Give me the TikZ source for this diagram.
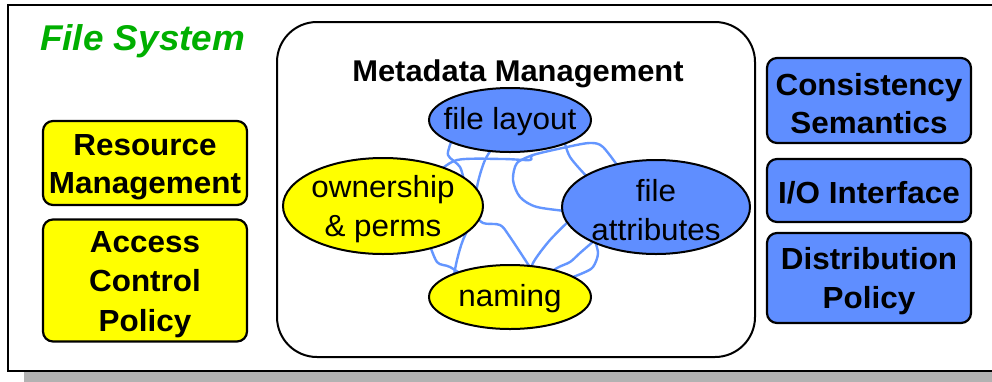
\documentclass[tikz,border=0pt]{standalone}
\usepackage{fontspec}
\setmainfont{Liberation Sans}[FakeStretch=1.03]
\usetikzlibrary{shapes.geometric,backgrounds}
\definecolor{fsblue}{RGB}{95,142,255}
\definecolor{lnblue}{RGB}{100,150,255}
\definecolor{fsyellow}{RGB}{255,255,0}
\definecolor{fsgreen}{RGB}{0,175,0}
\definecolor{shadowgray}{RGB}{178,178,178}
\begin{document}
\begin{tikzpicture}[x=1pt,y=-1pt,
  lbl/.style={font=\fontsize{30.5}{38.5}\selectfont, align=center, inner sep=0pt},
  rbox/.style={draw=black, line width=2.2pt, rounded corners=10pt, minimum width=204pt, align=center, inner sep=0pt, font=\fontsize{30.5}{38.5}\selectfont\bfseries},
  ybox/.style={rbox, fill=fsyellow},
  bbox/.style={rbox, fill=fsblue},
  ell/.style={ellipse, draw=black, line width=2pt, inner sep=0pt},
  scrib/.style={draw=lnblue, line width=2.4pt, line join=round, line cap=round}]
\useasboundingbox (0,0) rectangle (992,381);
% frame with shadow
\begin{scope}[on background layer]
\fill[white] (0,0) rectangle (992,381);
\fill[shadowgray] (24,371) rectangle (1000,390);
\fill[white] (8,5) rectangle (1000,371);
\end{scope}
\draw[line width=2pt] (8,5) rectangle (1000,371);
\node[font=\fontsize{35.8}{40}\selectfont\bfseries\itshape, text=fsgreen, anchor=base west, inner sep=0pt] (title) at (40,50) {File System};
% left boxes
\node[ybox, minimum height=84pt] (res) at (145,163) {};
\node[lbl, font=\fontsize{30.5}{38.5}\selectfont\bfseries] at ([yshift=-4pt]res.center) {Resource\\Management};
\node[ybox, minimum height=122pt] (acc) at (145,280.5) {};
\node[lbl, font=\fontsize{30.5}{39.5}\selectfont\bfseries] at ([yshift=-4pt]acc.center) {Access\\Control\\Policy};
% right boxes
\node[bbox, minimum height=85pt] (cons) at (869,100.5) {};
\node[lbl, font=\fontsize{30.5}{38.5}\selectfont\bfseries] at ([yshift=-3pt]cons.center) {Consistency\\Semantics};
\node[bbox, minimum height=63pt] (io) at (869,190.5) {};
\node[lbl, font=\fontsize{30.5}{38.5}\selectfont\bfseries] at ([yshift=-2pt]io.center) {I/O Interface};
\node[bbox, minimum height=90pt] (dist) at (869,278) {};
\node[lbl, font=\fontsize{30.5}{38.5}\selectfont\bfseries] at ([yshift=-3pt]dist.center) {Distribution\\Policy};
% metadata container
\node[draw=black, line width=2pt, rounded corners=40pt, minimum width=478pt, minimum height=335pt, inner sep=0pt] (meta) at (516,189.5) {};
\node[font=\fontsize{30}{36}\selectfont\bfseries, anchor=base, inner sep=0pt] (metat) at (518,81) {Metadata Management};
% ellipses
\node[ell, fill=fsblue, minimum width=162pt, minimum height=64pt] (lay) at (510,120) {};
\node[lbl] (layt) at ([yshift=-2pt]lay.center) {file layout};
\node[ell, fill=fsyellow, minimum width=200pt, minimum height=96pt] (own) at (383,206) {};
\node[lbl] (ownt) at ([yshift=-3pt]own.center) {ownership\\\& perms};
\node[ell, fill=fsblue, minimum width=188pt, minimum height=94pt] (attr) at (656,207) {};
\node[lbl] (attrt) at ([yshift=-3pt]attr.center) {file\\attributes};
\node[ell, fill=fsyellow, minimum width=162pt, minimum height=64pt] (nam) at (510,297) {};
\node[lbl] (namt) at ([yshift=-2pt]nam.center) {naming};
% scribbles behind ellipses
\begin{scope}[on background layer]
\draw[scrib] plot[smooth, tension=0.5] coordinates {(452,140) (448,155) (460,167) (465,185)};
\draw[scrib] plot[smooth, tension=0.5] coordinates {(428,240) (437,262) (450,267) (470,280)};
\draw[scrib] plot[smooth, tension=0.5] coordinates {(435,175) (457,160) (503,159) (530,160) (533,155) (567,147) (590,143) (603,147) (622,172)};
\draw[scrib] plot[smooth, tension=0.5] coordinates {(498,140) (485,160) (477,187) (476,213) (483,223) (500,225) (510,237) (535,275)};
\draw[scrib] plot[smooth, tension=0.5] coordinates {(563,135) (570,157) (592,182)};
\draw[scrib] plot[smooth, tension=0.5] coordinates {(533,155) (517,163) (513,180) (520,197) (537,207) (575,212)};
\draw[scrib] plot[smooth, tension=0.5] coordinates {(575,215) (550,240) (533,263) (529,280)};
\draw[scrib] plot[smooth, tension=0.5] coordinates {(593,235) (598,253) (593,267) (583,273) (565,280)};
\draw[scrib] plot[smooth, tension=0.5] coordinates {(595,240) (580,253) (570,262) (557,268) (540,280)};
\draw[scrib] plot[smooth, tension=0.5] coordinates {(475,215) (463,240) (457,260) (452,285)};
\end{scope}
\end{tikzpicture}
\end{document}
